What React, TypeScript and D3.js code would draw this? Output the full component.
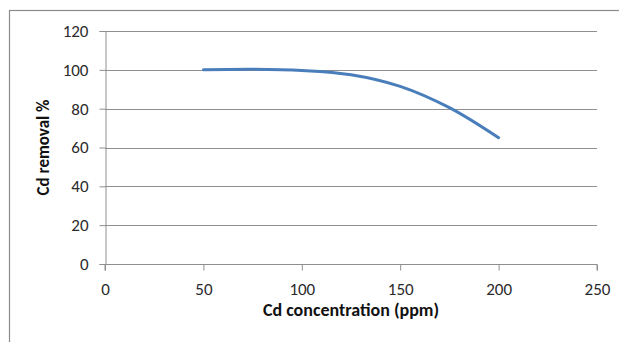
import { useEffect, useRef } from "react";
import * as d3 from "d3";

// chart values
const concentration = [50, 75, 100, 125, 150, 175, 200];
const removal = [100, 100.3, 99.7, 97.5, 91.5, 80.5, 65];
const xTicks = [0, 50, 100, 150, 200, 250];
const yTicks = [0, 20, 40, 60, 80, 100, 120];

const W = 619;
const H = 342;
const margin = { top: 31, right: 22, bottom: 78, left: 105 };
const font = "Carlito, 'Open Sans', 'Liberation Sans', sans-serif";

const App = () => {
  const ref = useRef<SVGSVGElement>(null);

  useEffect(() => {
    const svg = d3.select(ref.current);
    svg.selectAll("*").remove();

    const x = d3.scaleLinear().domain([0, 250]).range([margin.left, W - margin.right]);
    const y = d3.scaleLinear().domain([0, 120]).range([H - margin.bottom, margin.top]);

    // outer chart frame (cut by the picture edge on right and bottom)
    svg.append("rect")
      .attr("x", 9.5).attr("y", 10.5)
      .attr("width", W + 20).attr("height", H + 20)
      .attr("fill", "white")
      .attr("stroke", "#8c8c8c")
      .attr("stroke-width", 1.2);

    // horizontal grid
    svg.append("g")
      .selectAll("line")
      .data(yTicks.filter(d => d > 0))
      .join("line")
      .attr("x1", x(0)).attr("x2", x(250))
      .attr("y1", d => Math.round(y(d)) + 0.5).attr("y2", d => Math.round(y(d)) + 0.5)
      .attr("stroke", "#8f8f8f")
      .attr("stroke-width", 1);

    // y axis
    const yAxis = svg.append("g")
      .attr("transform", `translate(${x(0) + 0.5},0)`)
      .call(d3.axisLeft(y).tickValues(yTicks).tickSize(6).tickPadding(11));
    // x axis
    const xAxis = svg.append("g")
      .attr("transform", `translate(0,${Math.round(y(0)) + 0.5})`)
      .call(d3.axisBottom(x).tickValues(xTicks).tickSize(6));

    [yAxis, xAxis].forEach(g => {
      g.select(".domain").attr("stroke", "#8f8f8f").attr("stroke-width", 1);
      g.selectAll(".tick line").attr("stroke", "#8f8f8f");
      g.selectAll(".tick text")
        .attr("fill", "#2a2a2a")
        .attr("font-size", 17)
        .attr("font-family", font);
    });
    xAxis.select(".domain").attr("d", `M${x(0)},6V0H${x(250)}V6`);
    xAxis.selectAll(".tick text").attr("y", 30).attr("dy", 0);

    // the curve
    const line = d3.line<number>()
      .x((_, i) => x(concentration[i]))
      .y(d => y(d))
      .curve(d3.curveCatmullRom);
    svg.append("path")
      .datum(removal)
      .attr("d", line)
      .attr("fill", "none")
      .attr("stroke", "#4a7ebb")
      .attr("stroke-width", 3)
      .attr("stroke-linecap", "round");

    // axis titles
    svg.append("text")
      .attr("x", (x(0) + x(250)) / 2)
      .attr("y", 316)
      .attr("text-anchor", "middle")
      .attr("font-size", 18)
      .attr("font-weight", "bold")
      .attr("font-family", font)
      .attr("fill", "#111")
      .text("Cd concentration (ppm)");

    svg.append("text")
      .attr("transform", `translate(49,${(y(0) + y(120)) / 2}) rotate(-90)`)
      .attr("text-anchor", "middle")
      .attr("font-size", 17)
      .attr("font-weight", "bold")
      .attr("font-family", font)
      .attr("fill", "#111")
      .text("Cd removal %");
  }, []);

  return (
    <svg
      ref={ref}
      width={W}
      height={H}
      viewBox={`0 0 ${W} ${H}`}
      style={{ position: "fixed", left: 0, top: 0, background: "white" }}
    />
  );
};

export default App;
